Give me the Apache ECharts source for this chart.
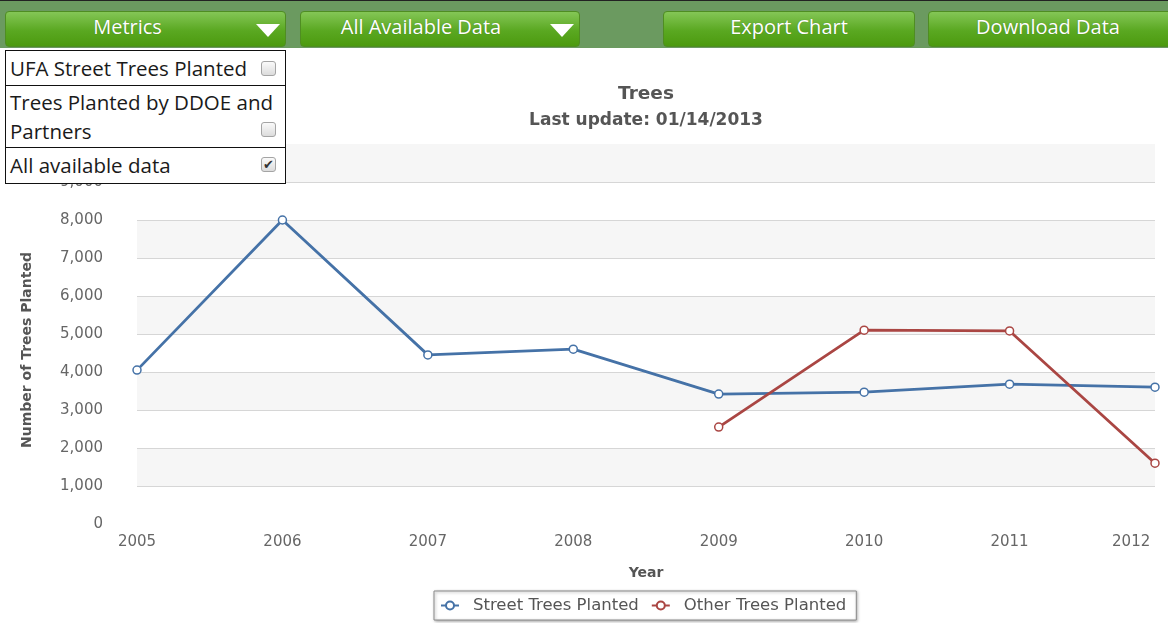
<!DOCTYPE html>
<html>
<head>
<meta charset="utf-8">
<script src="https://cdn.jsdelivr.net/npm/echarts@6/dist/echarts.min.js"></script>
<style>
  html, body { margin: 0; padding: 0; background: #fff; }
  body { width: 1168px; height: 623px; position: relative; overflow: hidden; }
  #chart { position: absolute; left: 0; top: 0; width: 1168px; height: 623px; }
  .bar { position: absolute; left: 0; top: 0; width: 1168px; height: 48px; background: #6b9a60; border-top: 1px solid #222; box-sizing: border-box; z-index: 5; }
  .btn { position: absolute; top: 10px; height: 36px; box-sizing: border-box; border: 1px solid #4f8d22; border-radius: 4px;
         background: linear-gradient(#84c656, #5aa821 55%, #4c9a0f); color: #fff; font-family: "Open Sans", sans-serif;
         font-size: 20px; line-height: 30px; text-align: center; text-shadow: 0 0 1px rgba(0,0,0,0.3); }
  .btn .tri { position: absolute; top: 12px; width: 0; height: 0; border-left: 12px solid transparent; border-right: 12px solid transparent; border-top: 13px solid #fff; }
  .panel { position: absolute; left: 5px; top: 50px; width: 281px; z-index: 6; background: #fff; font-family: "Open Sans", sans-serif; font-size: 20.5px; color: #1a1a1a; }
  .row { position: relative; border: 1.5px solid #111; border-top-width: 0; box-sizing: border-box; padding-left: 4px; white-space: nowrap; }
  .row:first-child { border-top-width: 1.5px; }
  .cb { position: absolute; right: 9px; width: 15px; height: 15px; box-sizing: border-box; border: 1px solid #a4a4a4; border-radius: 3px;
        background: linear-gradient(#fafafa, #dcdcdc); font-size: 13px; line-height: 13px; text-align: center; color: #333; }
</style>
</head>
<body>
<div id="chart"></div>
<div class="bar">
  <div class="btn" style="left:5px;width:281px;padding-right:36px;">Metrics<span class="tri" style="left:250px;"></span></div>
  <div class="btn" style="left:300px;width:280px;padding-right:38px;">All Available Data<span class="tri" style="left:249px;"></span></div>
  <div class="btn" style="left:663px;width:252px;">Export Chart</div>
  <div class="btn" style="left:928px;width:250px;padding-right:10px;">Download Data</div>
</div>
<div class="panel">
  <div class="row" style="height:36px;line-height:35px;">UFA Street Trees Planted<span class="cb" style="top:10px;"></span></div>
  <div class="row" style="height:62px;line-height:29px;padding-top:2px;">Trees Planted by DDOE and<br>Partners<span class="cb" style="top:36px;"></span></div>
  <div class="row" style="height:36px;line-height:35px;">All available data<span class="cb" style="top:9px;">&#10004;</span></div>
</div>
<script>
// chart values
const years = ['2005', '2006', '2007', '2008', '2009', '2010', '2011', '2012']
const streetTrees = [4050, 8000, 4450, 4600, 3420, 3470, 3680, 3600]
const otherTrees = [null, null, null, null, 2550, 5100, 5080, 1600]
const Y_MIN = 0
const Y_MAX = 10000
const Y_STEP = 1000

const BLUE = '#4572a7'
const RED = '#aa4643'
const FONT = '"DejaVu Sans", Verdana, sans-serif'

// no grid line at the bottom (0) and top (10,000) ticks
let gridColors = []
for (let v = Y_MIN; v <= Y_MAX; v += Y_STEP) {
  gridColors.push(v === Y_MIN || v === Y_MAX ? 'rgba(0,0,0,0)' : '#d6d6d6')
}

function lineSeries(name, data, color) {
  return {
    name: name,
    type: 'line',
    data: data,
    symbol: 'circle',
    symbolSize: 8,
    showAllSymbol: true,
    connectNulls: false,
    lineStyle: { color: color, width: 2.8 },
    itemStyle: { color: '#fff', borderColor: color, borderWidth: 1.5 },
    emphasis: { disabled: true },
    animation: false
  }
}

const myChart = echarts.init(document.getElementById('chart'))
myChart.setOption({
  animation: false,
  title: {
    text: 'Trees',
    subtext: 'Last update: 01/14/2013',
    left: 641,
    top: 79,
    textAlign: 'center',
    itemGap: 6,
    textStyle: { fontFamily: FONT, fontSize: 18.5, fontWeight: 'bold', color: '#555', lineHeight: 21 },
    subtextStyle: { fontFamily: FONT, fontSize: 17, fontWeight: 'bold', color: '#555', lineHeight: 19 }
  },
  grid: { left: 137, right: 13, top: 144, bottom: 99, containLabel: false, outerBoundsMode: 'none' },
  xAxis: {
    type: 'category',
    data: years,
    boundaryGap: false,
    name: 'Year',
    nameLocation: 'middle',
    nameGap: 42,
    nameTextStyle: { fontFamily: FONT, fontSize: 14, fontWeight: 'bold', color: '#555' },
    axisLine: { show: false },
    axisTick: { show: false },
    axisLabel: {
      margin: 11,
      fontFamily: FONT,
      fontSize: 15,
      color: '#666',
      alignMaxLabel: 'right',
      showMaxLabel: true,
      showMinLabel: true,
      padding: [0, 0, 0, 0],
      formatter: v => v === years[years.length - 1] ? v + ' ' : v
    }
  },
  yAxis: {
    type: 'value',
    min: Y_MIN,
    max: Y_MAX,
    interval: Y_STEP,
    name: 'Number of Trees Planted',
    nameLocation: 'middle',
    nameGap: 103,
    nameRotate: 90,
    nameTextStyle: { fontFamily: FONT, fontSize: 14, fontWeight: 'bold', color: '#555', padding: [0, 32, 0, 0] },
    axisLine: { show: false },
    axisTick: { show: false },
    axisLabel: {
      margin: 34,
      fontFamily: FONT,
      fontSize: 15,
      color: '#666',
      formatter: v => v.toLocaleString('en-US')
    },
    splitLine: { show: true, lineStyle: { color: gridColors, width: 1 } },
    splitArea: { show: true, areaStyle: { color: ['#ffffff', '#f6f6f6'] } }
  },
  legend: {
    left: 434,
    top: 591,
    orient: 'horizontal',
    padding: [6, 10, 6, 6],
    itemGap: 12,
    itemWidth: 18,
    itemHeight: 10,
    backgroundColor: '#fff',
    borderColor: '#8a8a8a',
    borderWidth: 1,
    shadowColor: 'rgba(0,0,0,0.35)',
    shadowBlur: 3,
    shadowOffsetX: 1,
    shadowOffsetY: 1,
    textStyle: { fontFamily: FONT, fontSize: 16.5, color: '#555', padding: [0, 0, 0, 9] },
    data: ['Street Trees Planted', 'Other Trees Planted']
  },
  series: [
    lineSeries('Street Trees Planted', streetTrees, BLUE),
    lineSeries('Other Trees Planted', otherTrees, RED)
  ]
})
</script>
</body>
</html>
